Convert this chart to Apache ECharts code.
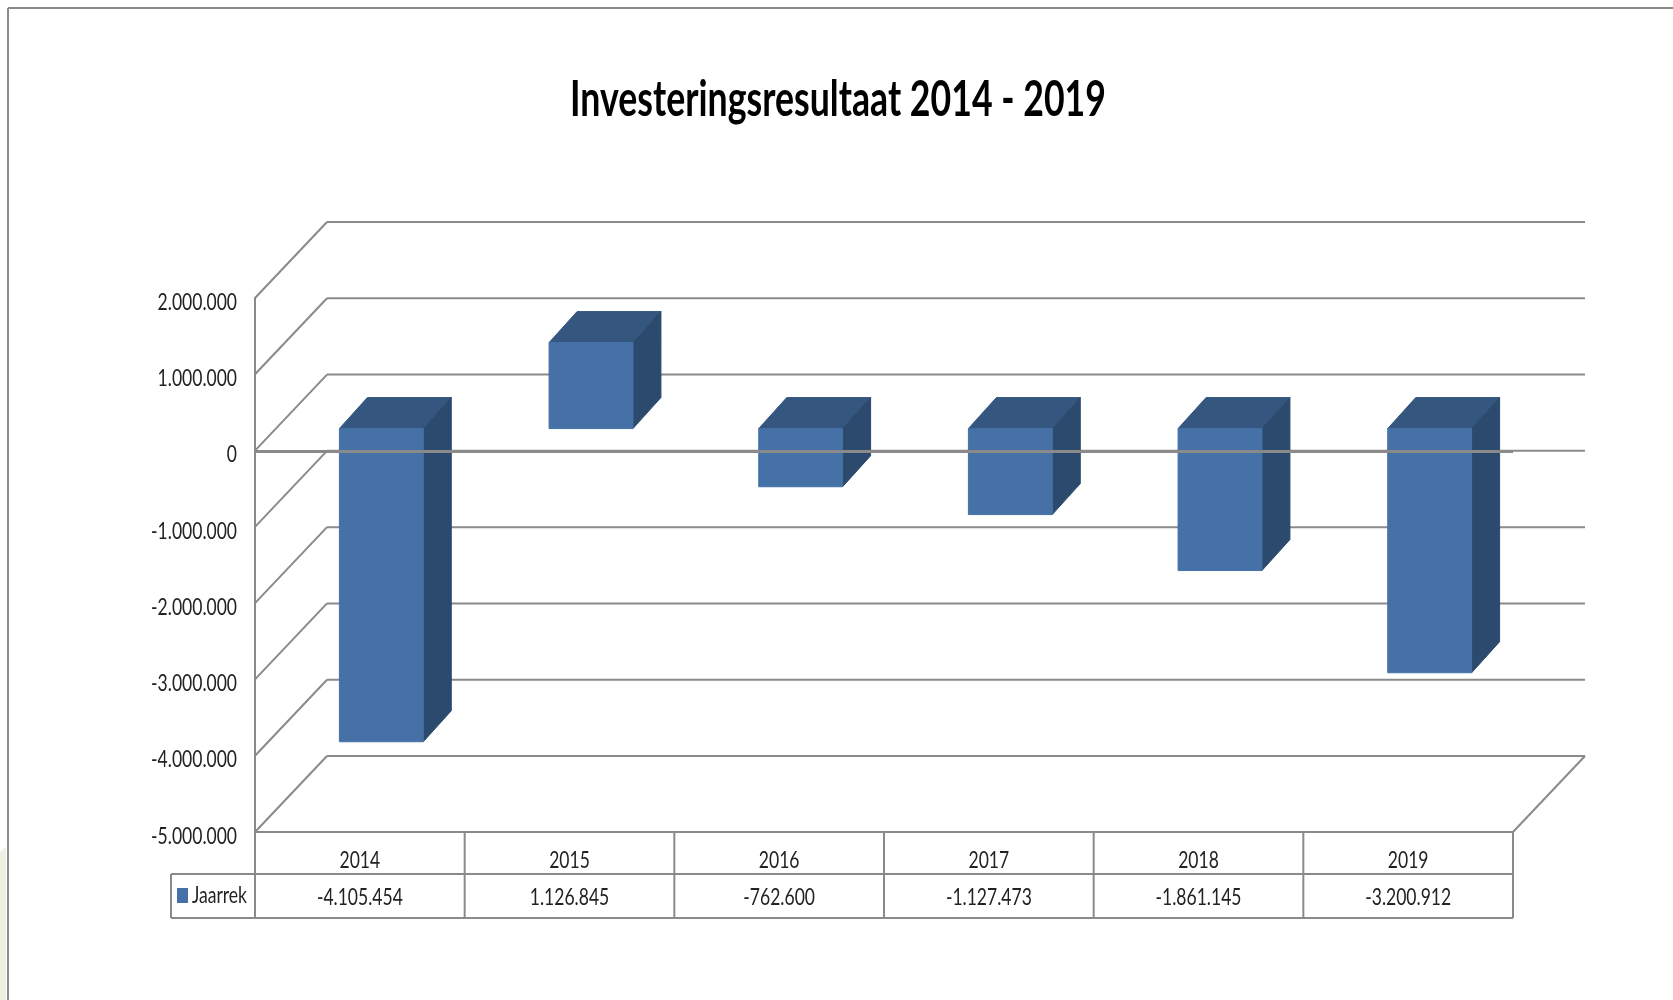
<!DOCTYPE html>
<html>
<head>
<meta charset="utf-8">
<title>Investeringsresultaat 2014 - 2019</title>
<script src="https://cdn.jsdelivr.net/npm/echarts@6/dist/echarts.min.js"></script>
<style>
  html, body { margin: 0; padding: 0; background: #fff; }
  #chart { width: 1673px; height: 1000px; }
</style>
</head>
<body>
<div id="chart"></div>
<script>
const titleText = 'Investeringsresultaat 2014 - 2019'
const seriesName = 'Jaarrek'
const categories = ['2014', '2015', '2016', '2017', '2018', '2019']
const values = [-4105454, 1126845, -762600, -1127473, -1861145, -3200912]
const yTicks = [2000000, 1000000, 0, -1000000, -2000000, -3000000, -4000000, -5000000]

const font = 'Lato, "Noto Sans", sans-serif'
const lineColor = '#8a8a8a'
const textColor = '#222'
const barColor = '#4571a7'

// the reference text is squeezed horizontally, so labels are drawn with a scaleX
const labelSize = 24
const labelScale = 0.73

// 3D look: wall depth and bar depth in px
const wallDx = 72
const wallDy = 76
const barOffsetDx = 21.5
const barOffsetDy = 22
const barDx = 28
const barDy = 31
const barWidthRatio = 0.4
const rowHeights = [42, 86]
const rowCenters = [28, 65]
const legendCellLeft = 171

function dotted(v) {
  return String(v).replace(/\B(?=(\d{3})+$)/g, '.')
}

function seg(x1, y1, x2, y2, width) {
  return {
    type: 'line',
    shape: { x1, y1, x2, y2 },
    style: { stroke: lineColor, lineWidth: width || 2 }
  }
}

function poly(points, fill) {
  return {
    type: 'polygon',
    shape: { points },
    style: { fill, stroke: fill, lineWidth: 1 }
  }
}

function label(text, x, y, align) {
  return {
    type: 'text',
    x,
    y,
    scaleX: labelScale,
    style: {
      text,
      fontFamily: font,
      fontSize: labelSize,
      fill: textColor,
      textAlign: align,
      textVerticalAlign: 'middle'
    }
  }
}

function renderWall(params, api) {
  const cs = params.coordSys
  const v = api.value(1)
  const y = api.coord([0, v])[1]
  const backLeft = cs.x + wallDx
  const backRight = cs.x + cs.width + wallDx
  const parts = [
    seg(cs.x, y, backLeft, y - wallDy),
    seg(backLeft, y - wallDy, backRight, y - wallDy),
    label(dotted(v), cs.x - 18, y + 4, 'right')
  ]
  if (v === yTicks[yTicks.length - 1]) {
    parts.push(seg(cs.x + cs.width, y, backRight, y - wallDy))
  }
  return { type: 'group', children: parts }
}

function renderBar(params, api) {
  const base = api.coord([api.value(0), 0])
  const end = api.coord([api.value(0), api.value(1)])
  const band = api.size([1, 0])[0]
  const w = band * barWidthRatio
  const x0 = base[0] - w / 2 + barOffsetDx
  const x1 = x0 + w
  const yBase = base[1] - barOffsetDy
  const yEnd = end[1] - barOffsetDy
  const yTop = Math.min(yBase, yEnd)
  const yBot = Math.max(yBase, yEnd)
  return {
    type: 'group',
    children: [
      poly([[x0, yTop], [x1, yTop], [x1 + barDx, yTop - barDy], [x0 + barDx, yTop - barDy]], '#35577f'),
      poly([[x1, yTop], [x1 + barDx, yTop - barDy], [x1 + barDx, yBot - barDy], [x1, yBot]], '#2c4a6d'),
      poly([[x0, yTop], [x1, yTop], [x1, yBot], [x0, yBot]], barColor)
    ]
  }
}

function renderZeroLine(params, api) {
  const cs = params.coordSys
  const y = api.coord([0, api.value(1)])[1]
  return seg(cs.x, y + 1, cs.x + cs.width, y + 1, 3)
}

function renderTable(params, api) {
  const cs = params.coordSys
  const i = api.value(0)
  const band = api.size([1, 0])[0]
  const center = api.coord([i, 0])[0]
  const right = center + band / 2
  const yTop = cs.y + cs.height
  const parts = [
    seg(right, yTop, right, yTop + rowHeights[1]),
    label(categories[i], center, yTop + rowCenters[0], 'center'),
    label(dotted(values[i]), center, yTop + rowCenters[1], 'center')
  ]
  if (i === 0) {
    const tableRight = cs.x + cs.width
    parts.push(
      seg(cs.x, yTop, cs.x, yTop + rowHeights[1]),
      seg(legendCellLeft, yTop + rowHeights[0], tableRight, yTop + rowHeights[0]),
      seg(legendCellLeft, yTop + rowHeights[1], tableRight, yTop + rowHeights[1]),
      seg(legendCellLeft, yTop + rowHeights[0], legendCellLeft, yTop + rowHeights[1]),
      {
        type: 'rect',
        shape: { x: legendCellLeft + 6, y: yTop + 56, width: 11, height: 15 },
        style: { fill: barColor }
      },
      label(seriesName, legendCellLeft + 21, yTop + 63, 'left')
    )
  }
  return { type: 'group', children: parts }
}

const option = {
  backgroundColor: '#fff',
  animation: false,
  graphic: [
    { type: 'polygon', z: -1, shape: { points: [[0, 852], [6, 847], [6, 1000], [0, 1000]] }, style: { fill: '#eef0e2' } },
    { type: 'line', shape: { x1: 8, y1: 8, x2: 1673, y2: 8 }, style: { stroke: lineColor, lineWidth: 2 } },
    { type: 'line', shape: { x1: 8, y1: 8, x2: 8, y2: 1000 }, style: { stroke: lineColor, lineWidth: 2 } },
    {
      type: 'text',
      x: 838,
      y: 100,
      scaleX: 0.728,
      style: {
        text: titleText,
        fontFamily: font,
        fontWeight: 'bold',
        fontSize: 49,
        fill: '#000',
        textAlign: 'center',
        textVerticalAlign: 'middle'
      }
    }
  ],
  grid: { left: 255, right: 160, top: 298, bottom: 168 },
  xAxis: {
    type: 'category',
    data: categories,
    axisLine: { onZero: false, lineStyle: { color: lineColor, width: 2 } },
    axisTick: { show: false },
    axisLabel: { show: false }
  },
  yAxis: {
    type: 'value',
    min: yTicks[yTicks.length - 1],
    max: yTicks[0],
    interval: 1000000,
    axisLine: { show: true, lineStyle: { color: lineColor, width: 2 } },
    axisTick: { show: false },
    splitLine: { show: false },
    axisLabel: { show: false }
  },
  series: [
    {
      name: 'wall',
      type: 'custom',
      z: 1,
      silent: true,
      encode: { x: 0, y: 1 },
      data: yTicks.map((v) => [0, v]),
      renderItem: renderWall
    },
    {
      name: seriesName,
      type: 'custom',
      z: 2,
      encode: { x: 0, y: 1 },
      itemStyle: { color: barColor },
      data: values.map((v, i) => [i, v]),
      renderItem: renderBar
    },
    {
      name: 'zero',
      type: 'custom',
      z: 3,
      silent: true,
      encode: { x: 0, y: 1 },
      data: [[0, 0]],
      renderItem: renderZeroLine
    },
    {
      name: 'table',
      type: 'custom',
      z: 3,
      silent: true,
      encode: { x: 0, y: 1 },
      data: categories.map((c, i) => [i, 0]),
      renderItem: renderTable
    }
  ]
}

const chart = echarts.init(document.getElementById('chart'))
chart.setOption(option)
window.addEventListener('resize', () => chart.resize())
</script>
</body>
</html>
